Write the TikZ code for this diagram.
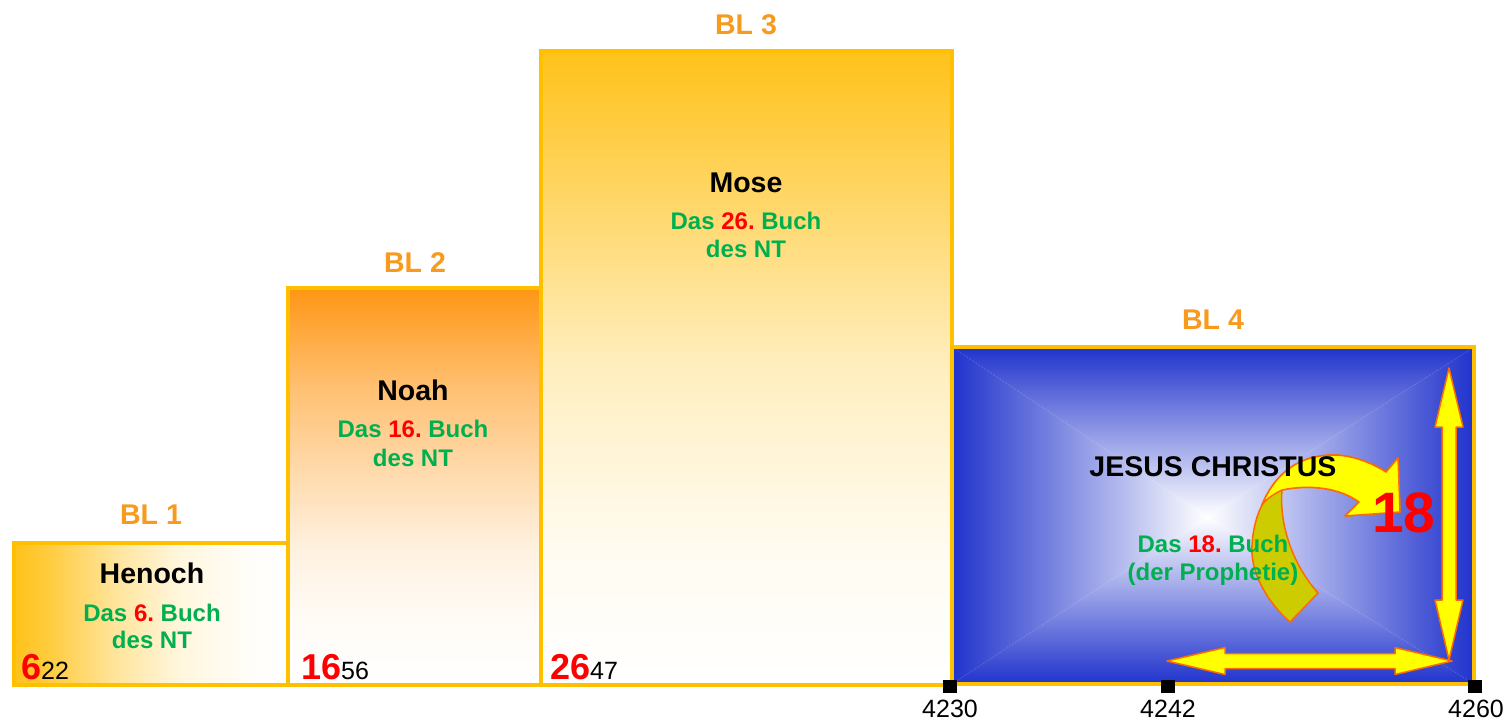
\documentclass[tikz,border=0pt]{standalone}
\usepackage{fontspec}
\setmainfont{Liberation Sans}
\definecolor{gold}{HTML}{FFC000}
\definecolor{blt}{HTML}{F79A1E}
\definecolor{grn}{HTML}{00B050}
\definecolor{rd}{HTML}{FF0000}
\definecolor{bblue}{HTML}{2033CC}
\definecolor{org}{HTML}{FF6A00}
\definecolor{ylw}{HTML}{FFFF00}
\definecolor{olv}{HTML}{CCCC00}
\definecolor{orA}{HTML}{FFC21A}
\definecolor{orB}{HTML}{FF9614}
\newcommand\fsz[1]{\fontsize{#1}{#1}\selectfont}
\pgfdeclareverticalshading{shadethree}{100bp}{color(0bp)=(white); color(25bp)=(white); color(35.5bp)=(orA!6!white); color(43.5bp)=(orA!18!white); color(50bp)=(orA!28!white); color(57bp)=(orA!48!white); color(75bp)=(orA); color(100bp)=(orA)}
\pgfdeclareverticalshading{shadetwo}{100bp}{color(0bp)=(white); color(25bp)=(white); color(33.5bp)=(orB!4!white); color(42bp)=(orB!13!white); color(50.5bp)=(orB!32!white); color(62.5bp)=(orB!60!white); color(75bp)=(orB); color(100bp)=(orB)}
\pgfdeclarehorizontalshading{shadeone}{100bp}{color(0bp)=(orA); color(25bp)=(orA); color(31bp)=(orA!85!white); color(43bp)=(orA!45!white); color(55bp)=(orA!15!white); color(67.5bp)=(orA!3!white); color(75bp)=(white); color(100bp)=(white)}
\tikzset{
  bltext/.style={text=blt, font=\fsz{28.5}\bfseries, anchor=base, inner sep=0pt},
  nametext/.style={text=black, font=\fsz{28.5}\bfseries, anchor=base, inner sep=0pt},
  booktext/.style={text=grn, font=\fsz{24}\bfseries, anchor=base, inner sep=0pt},
  yeartext/.style={text=black, font=\fsz{25}, anchor=base west, inner sep=0pt},
  axistext/.style={text=black, font=\fsz{25}, anchor=base, inner sep=0pt},
  frame/.style={draw=gold, line width=3.5pt},
  yarrow/.style={fill=ylw, draw=org, line width=1.5pt, line join=round},
  tick/.style={fill=black, minimum width=14pt, minimum height=13pt, inner sep=0pt, draw=none}
}
\frenchspacing
\begin{document}
\begin{tikzpicture}[x=1pt,y=-1pt]
\useasboundingbox (0,0) rectangle (1508,721);
% fills
\shade[shading=shadeone] (14,543) rectangle (288,685);
\shade[shading=shadetwo] (288,288) rectangle (541,685);
\shade[shading=shadethree] (541,51) rectangle (952,685);
% blue box, rectangular gradient
\coordinate (bc) at (1207,517);
\shade[top color=bblue, middle color=bblue!30!white, bottom color=white] (952,347) -- (1474,347) -- (bc) -- cycle;
\shade[left color=bblue, middle color=bblue!30!white, right color=white] (952,347) -- (952,684) -- (bc) -- cycle;
\shade[right color=bblue, middle color=bblue!30!white, left color=white] (1474,347) -- (1474,684) -- (bc) -- cycle;
\shade[bottom color=bblue, middle color=bblue!30!white, top color=white] (952,684) -- (1474,684) -- (bc) -- cycle;
% frames
\draw[frame] (14,543) rectangle (288,685);
\draw[frame] (288,288) rectangle (541,685);
\draw[frame] (541,51) rectangle (952,685);
\draw[frame] (952,347) rectangle (1474,684);
% double arrows
\draw[yarrow] (1449,368) -- (1463,427) -- (1456,427) -- (1456,600) -- (1463,600) -- (1449,660)
  -- (1435,600) -- (1442,600) -- (1442,427) -- (1435,427) -- cycle;
\draw[yarrow] (1167,661) -- (1225,647.5) -- (1225,653.5) -- (1395,653.5) -- (1395,647.5) -- (1452,661)
  -- (1395,674.5) -- (1395,668.5) -- (1225,668.5) -- (1225,674.5) -- cycle;
% curved arrow
\draw[fill=olv, draw=org, line width=1.5pt, line join=round]
  (1290,622) .. controls (1265,600) and (1250,570) .. (1252,545)
  .. controls (1253,528) and (1257,515) .. (1262,505)
  .. controls (1268,490) and (1278,476) .. (1290,468)
  .. controls (1302,459) and (1318,455) .. (1333,455)
  .. controls (1352,455) and (1372,463) .. (1386,472)
  -- (1398,458) -- (1400,512) -- (1345,516) -- (1359,502)
  .. controls (1340,488) and (1310,484) .. (1282,490)
  .. controls (1279,525) and (1293,565) .. (1318,593) -- cycle;
\draw[fill=ylw, draw=org, line width=1.5pt, line join=round]
  (1262,505)
  .. controls (1268,490) and (1278,476) .. (1290,468)
  .. controls (1302,459) and (1318,455) .. (1333,455)
  .. controls (1352,455) and (1372,463) .. (1386,472)
  -- (1398,458) -- (1400,512) -- (1345,516) -- (1359,502)
  .. controls (1340,488) and (1310,484) .. (1282,490)
  .. controls (1274,494) and (1266,499) .. (1262,505) -- cycle;
% ticks
\node[tick] (t1) at (950,686) {};
\node[tick] (t2) at (1168,686) {};
\node[tick] (t3) at (1475,686) {};
\node[axistext] (a1) at (950,717) {4230};
\node[axistext] (a2) at (1168,717) {4242};
\node[axistext] (a3) at (1476,717) {4260};
% labels
\node[bltext] (bl1) at (151,524) {BL 1};
\node[bltext] (bl2) at (415,272) {BL 2};
\node[bltext] (bl3) at (746,34) {BL 3};
\node[bltext] (bl4) at (1213,329) {BL 4};
\node[nametext] (n1) at (152,583) {Henoch};
\node[nametext] (n2) at (413,400) {Noah};
\node[nametext] (n3) at (746,192) {Mose};
\node[nametext] (n4) at (1213,476) {JESUS CHRISTUS};
\node[booktext] (b1a) at (152,621) {Das \textcolor{rd}{6.} Buch};
\node[booktext] (b1b) at (152,648) {des NT};
\node[booktext] (b2a) at (413,437) {Das \textcolor{rd}{16.} Buch};
\node[booktext] (b2b) at (413,466) {des NT};
\node[booktext] (b3a) at (746,229) {Das \textcolor{rd}{26.} Buch};
\node[booktext] (b3b) at (746,257) {des NT};
\node[booktext] (b4a) at (1213,552) {Das \textcolor{rd}{18.} Buch};
\node[booktext] (b4b) at (1213,580) {(der Prophetie)};
\node[yeartext] (y1) at (21,679) {{\fsz{36}\bfseries\color{rd}6}22};
\node[yeartext] (y2) at (301,679) {{\fsz{36}\bfseries\color{rd}16}56};
\node[yeartext] (y3) at (550,679) {{\fsz{36}\bfseries\color{rd}26}47};
\node[text=rd, font=\fsz{57}\bfseries, anchor=base west, inner sep=0pt] (n18) at (1372,532) {18};
\end{tikzpicture}
\end{document}
